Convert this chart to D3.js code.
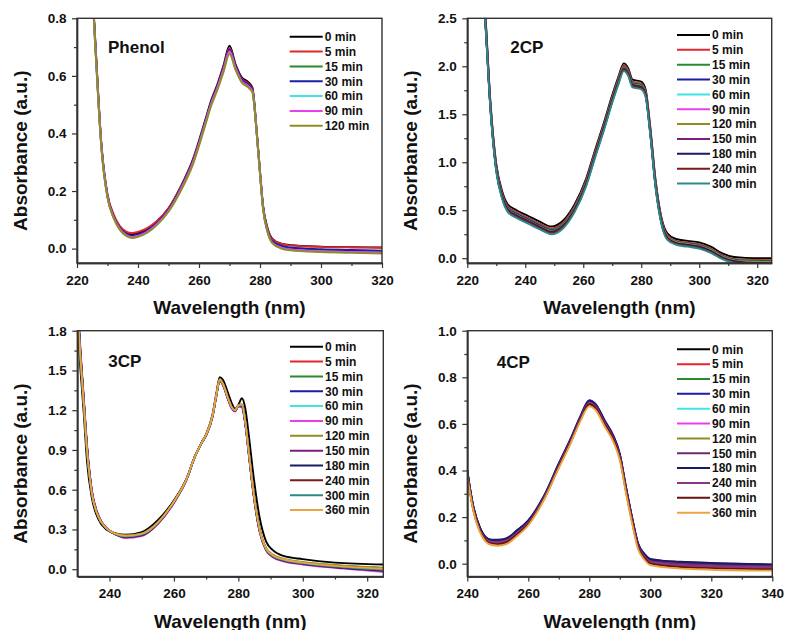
<!DOCTYPE html>
<html>
<head>
<meta charset="utf-8">
<script src="https://cdn.jsdelivr.net/npm/d3@7"></script>
<style>
  body { margin: 0; background: #fff; }
  text { font-family: "Liberation Sans", Arial, sans-serif; font-weight: bold; fill: #111; }
</style>
</head>
<body>
<div id="vis"></div>
<script>
// ---- Phenol ----
const phenolWl = [224,226,228,230,232,234,236,238,240,243,246,250,254,258,262,264,266,268,270,272,274,276,277.5,279,280,281,282.5,284,287,290,300,310,320]
const phenolTimes = ["0 min","5 min","15 min","30 min","60 min","90 min","120 min"]
const phenolAbs = [
  [1.10,0.72,0.36,0.185,0.115,0.075,0.056,0.05,0.054,0.068,0.092,0.14,0.215,0.31,0.445,0.515,0.57,0.635,0.705,0.64,0.595,0.58,0.56,0.4,0.27,0.15,0.07,0.035,0.017,0.012,0.007,0.005,0.004],
  [1.10,0.72,0.365,0.19,0.12,0.079,0.06,0.054,0.058,0.071,0.094,0.14,0.213,0.307,0.44,0.51,0.565,0.63,0.697,0.635,0.59,0.575,0.555,0.395,0.267,0.148,0.069,0.034,0.016,0.011,0.006,0.004,0.003],
  [1.10,0.71,0.355,0.18,0.11,0.07,0.05,0.042,0.046,0.06,0.085,0.133,0.207,0.3,0.435,0.505,0.56,0.622,0.688,0.628,0.584,0.568,0.548,0.39,0.26,0.14,0.06,0.024,0.006,0.0,-0.006,-0.009,-0.01],
  [1.10,0.71,0.358,0.182,0.112,0.072,0.052,0.045,0.049,0.063,0.087,0.135,0.209,0.303,0.438,0.508,0.563,0.626,0.692,0.632,0.587,0.571,0.551,0.392,0.263,0.143,0.063,0.027,0.01,0.004,-0.002,-0.005,-0.007],
  [1.10,0.70,0.35,0.178,0.108,0.068,0.047,0.039,0.043,0.057,0.082,0.13,0.204,0.297,0.432,0.502,0.556,0.618,0.683,0.625,0.58,0.564,0.545,0.388,0.258,0.137,0.057,0.02,0.002,-0.004,-0.01,-0.013,-0.015],
  [1.10,0.705,0.352,0.179,0.109,0.069,0.048,0.04,0.044,0.058,0.083,0.131,0.205,0.298,0.433,0.503,0.558,0.62,0.686,0.627,0.582,0.566,0.547,0.389,0.259,0.138,0.058,0.021,0.003,-0.003,-0.009,-0.012,-0.014],
  [1.10,0.70,0.348,0.176,0.106,0.066,0.045,0.037,0.041,0.055,0.08,0.128,0.2,0.292,0.426,0.496,0.55,0.612,0.676,0.62,0.577,0.561,0.543,0.392,0.263,0.14,0.058,0.02,0.0,-0.006,-0.012,-0.015,-0.017]
]
const phenolColors = ["#000000","#e3262c","#2a8a2e","#1c1ca8","#40e4e4","#e840e8","#8e8e22"]

// ---- 2CP ----
const cp2Wl = [224,226,228,230,232,234,237,241,245,249,253,257,261,264,267,270,272,274,275.5,277,280,281.5,283,285,287,289,292,296,300,304,308,312,316,325]
const cp2Times = ["0 min","5 min","15 min","30 min","60 min","90 min","120 min","150 min","180 min","240 min","300 min"]
const cp2Abs = [
  [3.3,2.65,1.62,0.98,0.7,0.56,0.5,0.44,0.38,0.33,0.39,0.56,0.83,1.12,1.4,1.7,1.88,2.03,1.98,1.86,1.84,1.76,1.4,0.8,0.42,0.26,0.2,0.18,0.165,0.12,0.05,0.012,0.003,0.0],
  [3.27,2.62,1.6,0.96,0.68,0.54,0.48,0.42,0.36,0.31,0.37,0.54,0.81,1.1,1.38,1.68,1.86,2.01,1.96,1.84,1.82,1.74,1.38,0.78,0.4,0.24,0.18,0.162,0.145,0.1,0.03,-0.007,-0.017,-0.02],
  [3.27,2.62,1.59,0.95,0.67,0.53,0.47,0.41,0.35,0.3,0.36,0.53,0.8,1.09,1.37,1.67,1.85,2.0,1.95,1.83,1.81,1.73,1.37,0.77,0.39,0.23,0.175,0.155,0.14,0.094,0.025,-0.013,-0.024,-0.028],
  [3.25,2.6,1.58,0.94,0.66,0.52,0.46,0.4,0.34,0.29,0.35,0.52,0.79,1.08,1.36,1.66,1.84,1.99,1.94,1.82,1.8,1.72,1.36,0.76,0.385,0.225,0.17,0.15,0.133,0.088,0.02,-0.019,-0.03,-0.035],
  [3.21,2.56,1.55,0.91,0.63,0.49,0.43,0.37,0.31,0.26,0.32,0.49,0.76,1.05,1.33,1.63,1.81,1.96,1.91,1.79,1.77,1.69,1.33,0.73,0.36,0.2,0.146,0.126,0.106,0.06,-0.005,-0.045,-0.06,-0.065],
  [3.24,2.59,1.57,0.93,0.65,0.51,0.45,0.39,0.33,0.28,0.34,0.51,0.78,1.07,1.35,1.65,1.83,1.98,1.93,1.81,1.79,1.71,1.35,0.75,0.38,0.22,0.165,0.145,0.126,0.081,0.014,-0.025,-0.037,-0.042],
  [3.24,2.59,1.57,0.93,0.65,0.51,0.45,0.39,0.33,0.285,0.345,0.515,0.785,1.075,1.355,1.655,1.835,1.985,1.935,1.815,1.795,1.715,1.355,0.755,0.382,0.222,0.167,0.147,0.129,0.084,0.017,-0.022,-0.034,-0.039],
  [3.22,2.57,1.56,0.92,0.64,0.5,0.44,0.38,0.32,0.27,0.33,0.5,0.77,1.06,1.34,1.64,1.82,1.97,1.92,1.8,1.78,1.7,1.34,0.74,0.37,0.21,0.155,0.135,0.116,0.07,0.004,-0.035,-0.049,-0.054],
  [3.23,2.58,1.565,0.925,0.645,0.505,0.445,0.385,0.325,0.275,0.335,0.505,0.775,1.065,1.345,1.645,1.825,1.975,1.925,1.805,1.785,1.705,1.345,0.745,0.372,0.212,0.158,0.138,0.119,0.073,0.007,-0.032,-0.046,-0.051],
  [3.21,2.56,1.555,0.915,0.635,0.495,0.435,0.375,0.315,0.265,0.325,0.495,0.765,1.055,1.335,1.635,1.815,1.965,1.915,1.795,1.775,1.695,1.335,0.735,0.362,0.203,0.149,0.129,0.109,0.063,-0.002,-0.042,-0.057,-0.062],
  [3.2,2.55,1.54,0.9,0.62,0.48,0.42,0.36,0.3,0.25,0.31,0.48,0.75,1.04,1.32,1.62,1.8,1.95,1.9,1.78,1.76,1.68,1.32,0.72,0.35,0.19,0.14,0.12,0.1,0.055,-0.01,-0.05,-0.065,-0.07]
]
const cp2Colors = ["#000000","#e3262c","#2a8a2e","#1c1ca8","#40e4e4","#e840e8","#8e8e22","#7b1f7b","#1a1a66","#7a1a1a","#2a8a8a"]

// ---- 3CP ----
const cp3Wl = [229,231,232,233,234.5,236.5,239,242,245,250,255,260,264,266.5,268.5,270,272,273.2,274.2,275.2,276.8,278,279,280,281.1,282.1,283.3,284.5,286.6,288.6,290.7,294,300,310,325]
const cp3Times = ["0 min","5 min","15 min","30 min","60 min","90 min","120 min","150 min","180 min","240 min","300 min","360 min"]
const cp3Abs = [
  [2.3,1.5,1.18,0.82,0.54,0.38,0.3,0.27,0.26,0.28,0.37,0.52,0.69,0.85,0.95,1.02,1.17,1.33,1.45,1.43,1.33,1.25,1.21,1.24,1.29,1.22,1.0,0.745,0.39,0.21,0.144,0.1,0.076,0.05,0.036],
  [2.45,1.62,1.28,0.93,0.59,0.405,0.31,0.262,0.24,0.255,0.345,0.505,0.683,0.85,0.95,1.012,1.155,1.315,1.425,1.395,1.285,1.215,1.195,1.232,1.23,1.11,0.86,0.61,0.29,0.148,0.096,0.065,0.04,0.015,-0.015],
  [2.4,1.6,1.26,0.91,0.58,0.4,0.31,0.265,0.25,0.265,0.35,0.51,0.685,0.85,0.95,1.015,1.16,1.32,1.43,1.4,1.29,1.22,1.2,1.235,1.24,1.12,0.87,0.62,0.3,0.155,0.105,0.075,0.05,0.028,0.008],
  [2.42,1.61,1.27,0.92,0.585,0.402,0.31,0.262,0.243,0.258,0.347,0.507,0.684,0.85,0.95,1.013,1.157,1.317,1.427,1.397,1.287,1.217,1.197,1.233,1.233,1.113,0.863,0.613,0.293,0.15,0.099,0.068,0.043,0.019,-0.008],
  [2.43,1.62,1.27,0.92,0.585,0.403,0.31,0.262,0.242,0.257,0.346,0.506,0.683,0.85,0.95,1.012,1.156,1.316,1.426,1.396,1.286,1.216,1.196,1.232,1.231,1.112,0.862,0.612,0.292,0.149,0.098,0.067,0.042,0.017,-0.01],
  [2.48,1.65,1.3,0.95,0.6,0.41,0.31,0.26,0.235,0.25,0.34,0.5,0.68,0.85,0.95,1.01,1.15,1.31,1.42,1.39,1.28,1.21,1.19,1.23,1.22,1.1,0.85,0.6,0.28,0.14,0.09,0.06,0.035,0.01,-0.02],
  [2.38,1.58,1.25,0.9,0.575,0.398,0.31,0.268,0.255,0.27,0.355,0.512,0.686,0.85,0.95,1.016,1.162,1.322,1.432,1.402,1.292,1.222,1.202,1.236,1.245,1.125,0.875,0.625,0.305,0.16,0.11,0.08,0.055,0.032,0.012],
  [2.44,1.63,1.28,0.93,0.59,0.405,0.31,0.261,0.24,0.255,0.345,0.505,0.682,0.85,0.95,1.011,1.155,1.315,1.424,1.394,1.284,1.214,1.194,1.231,1.228,1.108,0.858,0.608,0.288,0.146,0.095,0.064,0.039,0.014,-0.013],
  [2.43,1.62,1.28,0.925,0.588,0.404,0.31,0.262,0.242,0.257,0.346,0.506,0.683,0.85,0.95,1.012,1.156,1.316,1.426,1.396,1.286,1.216,1.196,1.232,1.231,1.112,0.862,0.612,0.292,0.149,0.098,0.067,0.042,0.017,-0.01],
  [2.4,1.6,1.26,0.91,0.58,0.4,0.31,0.264,0.248,0.263,0.35,0.51,0.685,0.85,0.95,1.015,1.16,1.32,1.43,1.4,1.29,1.22,1.2,1.235,1.24,1.12,0.87,0.62,0.3,0.153,0.103,0.072,0.047,0.022,0.0],
  [2.41,1.6,1.26,0.915,0.582,0.401,0.31,0.263,0.246,0.261,0.349,0.508,0.684,0.85,0.95,1.014,1.158,1.318,1.428,1.398,1.288,1.218,1.198,1.234,1.236,1.116,0.866,0.616,0.296,0.151,0.1,0.069,0.044,0.02,-0.005],
  [2.39,1.59,1.255,0.905,0.578,0.399,0.31,0.266,0.252,0.267,0.352,0.511,0.686,0.85,0.95,1.015,1.16,1.32,1.43,1.4,1.29,1.22,1.2,1.235,1.242,1.122,0.872,0.622,0.302,0.156,0.106,0.075,0.05,0.025,0.004]
]
const cp3Colors = ["#000000","#e3262c","#2a8a2e","#1c1ca8","#40e4e4","#e840e8","#8e8e22","#7b1f7b","#1a1a66","#7a1a1a","#2a8a8a","#eaa440"]

// ---- 4CP ----
const cp4Wl = [240,241,242,244,246,248,250,253,256,260,265,270,274,277,280,282,285,288,290,292,294,296,298,300,305,310,320,340]
const cp4Times = ["0 min","5 min","15 min","30 min","60 min","90 min","120 min","150 min","180 min","240 min","300 min","360 min"]
const cp4Abs = [
  [0.40,0.312,0.242,0.156,0.111,0.098,0.097,0.104,0.134,0.18,0.282,0.425,0.535,0.625,0.695,0.68,0.61,0.54,0.465,0.325,0.195,0.081,0.037,0.014,0.005,0.0,-0.005,-0.01],
  [0.395,0.308,0.238,0.152,0.107,0.094,0.092,0.1,0.13,0.177,0.28,0.422,0.532,0.622,0.692,0.677,0.607,0.537,0.462,0.322,0.192,0.078,0.034,0.01,0.0,-0.005,-0.01,-0.015],
  [0.39,0.305,0.235,0.15,0.105,0.092,0.09,0.098,0.128,0.175,0.278,0.42,0.53,0.62,0.69,0.675,0.605,0.535,0.46,0.32,0.19,0.076,0.032,0.008,-0.002,-0.007,-0.012,-0.017],
  [0.40,0.314,0.244,0.159,0.114,0.102,0.102,0.109,0.139,0.185,0.286,0.429,0.539,0.629,0.702,0.686,0.616,0.546,0.471,0.331,0.2,0.086,0.042,0.019,0.011,0.007,0.002,-0.004],
  [0.39,0.304,0.234,0.149,0.104,0.091,0.089,0.097,0.127,0.174,0.277,0.419,0.529,0.619,0.689,0.674,0.604,0.534,0.459,0.319,0.189,0.075,0.031,0.007,-0.003,-0.008,-0.013,-0.018],
  [0.39,0.303,0.233,0.148,0.103,0.09,0.088,0.096,0.126,0.173,0.276,0.418,0.528,0.618,0.688,0.673,0.603,0.533,0.458,0.318,0.188,0.074,0.03,0.006,-0.004,-0.009,-0.014,-0.019],
  [0.385,0.3,0.23,0.145,0.1,0.087,0.085,0.093,0.123,0.171,0.275,0.416,0.526,0.616,0.685,0.67,0.6,0.53,0.455,0.315,0.185,0.071,0.027,0.003,-0.007,-0.012,-0.017,-0.022],
  [0.395,0.31,0.24,0.155,0.11,0.097,0.096,0.104,0.134,0.18,0.282,0.425,0.535,0.625,0.696,0.68,0.61,0.54,0.465,0.325,0.195,0.081,0.037,0.014,0.006,0.001,-0.004,-0.009],
  [0.40,0.315,0.245,0.16,0.115,0.103,0.103,0.11,0.14,0.186,0.287,0.43,0.54,0.63,0.70,0.685,0.615,0.545,0.47,0.33,0.2,0.086,0.043,0.02,0.012,0.008,0.003,-0.003],
  [0.39,0.306,0.236,0.151,0.106,0.093,0.091,0.099,0.129,0.176,0.279,0.421,0.531,0.621,0.691,0.676,0.606,0.536,0.461,0.321,0.191,0.077,0.033,0.009,-0.001,-0.006,-0.011,-0.016],
  [0.385,0.3,0.23,0.145,0.1,0.086,0.084,0.092,0.122,0.17,0.274,0.415,0.525,0.615,0.684,0.669,0.599,0.529,0.454,0.314,0.184,0.07,0.026,0.001,-0.009,-0.014,-0.019,-0.024],
  [0.38,0.295,0.225,0.14,0.095,0.08,0.077,0.085,0.115,0.165,0.27,0.41,0.52,0.61,0.675,0.66,0.59,0.52,0.445,0.305,0.175,0.062,0.018,-0.006,-0.016,-0.021,-0.026,-0.03]
]
const cp4Colors = ["#000000","#e3262c","#2a8a2e","#1c1ca8","#40e4e4","#e840e8","#8e8e22","#6e2a6e","#1a1a60","#8a338a","#6a1010","#eaa440"]

// Panel layout: plot box, domains, ticks, label and legend placement
const panels = [
  {name: "Phenol", wl: phenolWl, abs: phenolAbs, times: phenolTimes, colors: phenolColors,
   left: 77, top: 18.3, w: 305, h: 244.7, xDom: [220, 320], yDom: [-0.05, 0.8],
   xMajor: [220,240,260,280,300,320], xMinor: [230,250,270,290,310],
   yMajor: [0,0.2,0.4,0.6,0.8], yMinor: [0.1,0.3,0.5,0.7],
   nameX: 31, nameY: 35, legX: 212.7, legY: 18.4},
  {name: "2CP", wl: cp2Wl, abs: cp2Abs, times: cp2Times, colors: cp2Colors,
   left: 467.3, top: 18.3, w: 304.4, h: 244.7, xDom: [220, 325], yDom: [-0.05, 2.5],
   xMajor: [220,240,260,280,300,320], xMinor: [230,250,270,290,310],
   yMajor: [0,0.5,1,1.5,2,2.5], yMinor: [0.25,0.75,1.25,1.75,2.25],
   nameX: 43, nameY: 35, legX: 209.7, legY: 16.7},
  {name: "3CP", wl: cp3Wl, abs: cp3Abs, times: cp3Times, colors: cp3Colors,
   left: 77.3, top: 330.7, w: 306, h: 245.8, xDom: [230, 325], yDom: [-0.055, 1.8],
   xMajor: [240,260,280,300,320], xMinor: [250,270,290,310],
   yMajor: [0,0.3,0.6,0.9,1.2,1.5,1.8], yMinor: [0.15,0.45,0.75,1.05,1.35,1.65],
   nameX: 31, nameY: 36, legX: 212.7, legY: 16},
  {name: "4CP", wl: cp4Wl, abs: cp4Abs, times: cp4Times, colors: cp4Colors,
   left: 467.3, top: 330.7, w: 305, h: 245.8, xDom: [240, 340], yDom: [-0.055, 1.0],
   xMajor: [240,260,280,300,320,340], xMinor: [250,270,290,310,330],
   yMajor: [0,0.2,0.4,0.6,0.8,1.0], yMinor: [0.1,0.3,0.5,0.7,0.9],
   nameX: 29.4, nameY: 37.6, legX: 209.7, legY: 18.6}
]

const svg = d3.select("#vis")
    .append("svg")
    .attr("width", 785)
    .attr("height", 630)

svg.append("rect").attr("width", 785).attr("height", 630).attr("fill", "#fff")

panels.forEach(drawPanel)

function drawPanel(p, idx){
    const x = d3.scaleLinear().domain(p.xDom).range([p.left, p.left + p.w])
    const y = d3.scaleLinear().domain(p.yDom).range([p.top + p.h, p.top])
    const bottom = p.top + p.h
    const g = svg.append("g")

    g.append("clipPath").attr("id", "clip" + idx)
        .append("rect")
        .attr("x", p.left).attr("y", p.top)
        .attr("width", p.w).attr("height", p.h)

    const line = d3.line()
        .x((d, i) => x(p.wl[i]))
        .y(d => y(d))
        .curve(d3.curveMonotoneX)

    // Spectra, one path per time
    g.append("g")
        .attr("clip-path", "url(#clip" + idx + ")")
        .selectAll("path")
        .data(p.abs)
        .join("path")
        .attr("d", line)
        .attr("fill", "none")
        .attr("stroke", (d, i) => p.colors[i])
        .attr("stroke-width", 1.9)
        .attr("stroke-linejoin", "round")

    // Frame
    g.append("rect")
        .attr("x", p.left).attr("y", p.top)
        .attr("width", p.w).attr("height", p.h)
        .attr("fill", "none")
        .attr("stroke", "#333")
        .attr("stroke-width", 1.4)

    // Axes: major with labels, minor without
    g.append("g").attr("transform", `translate(0,${bottom})`)
        .call(d3.axisBottom(x).tickValues(p.xMajor).tickSize(5).tickPadding(7).tickSizeOuter(0).tickFormat(d3.format("d")))
    g.append("g").attr("transform", `translate(0,${bottom})`)
        .call(d3.axisBottom(x).tickValues(p.xMinor).tickSize(3).tickSizeOuter(0).tickFormat(""))
    g.append("g").attr("transform", `translate(${p.left},0)`)
        .call(d3.axisLeft(y).tickValues(p.yMajor).tickSize(5).tickPadding(5.5).tickSizeOuter(0).tickFormat(d3.format(".1f")))
    g.append("g").attr("transform", `translate(${p.left},0)`)
        .call(d3.axisLeft(y).tickValues(p.yMinor).tickSize(3).tickSizeOuter(0).tickFormat(""))

    g.selectAll(".domain").attr("stroke", "#333").attr("stroke-width", 1.4)
    g.selectAll(".tick line").attr("stroke", "#333").attr("stroke-width", 1.2)
    g.selectAll(".tick text").style("font-size", "13.5px")

    // Axis titles
    g.append("text")
        .attr("x", p.left + p.w / 2)
        .attr("y", bottom + 51)
        .attr("text-anchor", "middle")
        .style("font-size", "19px")
        .text("Wavelength (nm)")

    g.append("text")
        .attr("transform", `translate(${p.left - 50},${p.top + p.h / 2 + 10}) rotate(-90)`)
        .attr("text-anchor", "middle")
        .style("font-size", "19px")
        .text("Absorbance (a.u.)")

    // Compound name
    g.append("text")
        .attr("x", p.left + p.nameX)
        .attr("y", p.top + p.nameY)
        .style("font-size", "17px")
        .text(p.name)

    // Legend
    const leg = g.append("g")
        .selectAll("g")
        .data(p.times)
        .join("g")
        .attr("transform", (d, i) => `translate(${p.left + p.legX},${p.top + p.legY + i * 14.85})`)
    leg.append("line")
        .attr("x1", 0).attr("x2", 33)
        .attr("stroke", (d, i) => p.colors[i])
        .attr("stroke-width", 2)
    leg.append("text")
        .attr("x", 35)
        .attr("dy", "0.36em")
        .style("font-size", "12px")
        .text(d => d)
}
</script>
</body>
</html>
